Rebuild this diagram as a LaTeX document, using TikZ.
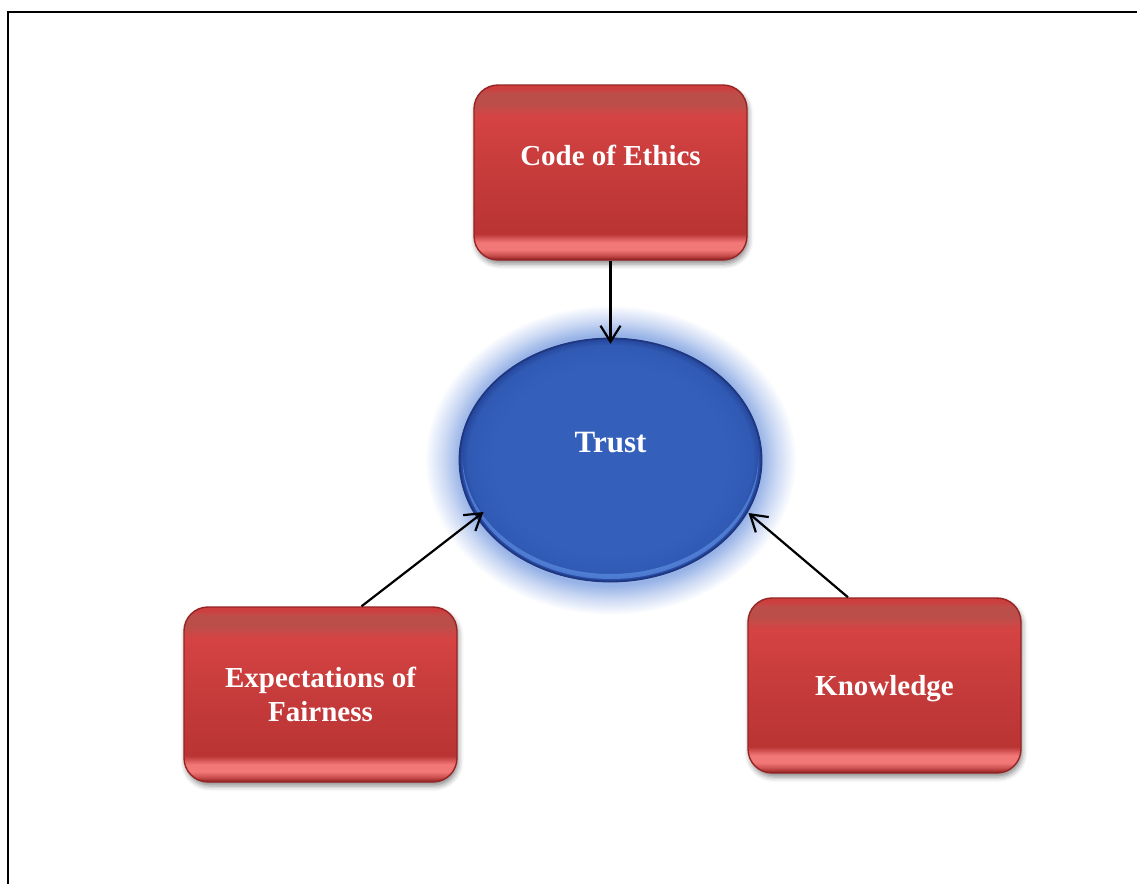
\documentclass[tikz,border=0pt]{standalone}
\usepackage{fontspec}
\setmainfont{Liberation Serif}
\usetikzlibrary{shapes.geometric,arrows.meta,calc,shadows.blur}

\definecolor{rbA}{RGB}{135,28,28}
\definecolor{rbB}{RGB}{200,75,75}
\definecolor{rbC}{RGB}{242,120,120}
\definecolor{rbD}{RGB}{186,52,52}
\definecolor{rbE}{RGB}{198,59,59}
\definecolor{rbF}{RGB}{213,67,67}
\definecolor{rbG}{RGB}{188,78,74}
\definecolor{rbH}{RGB}{205,62,62}
\definecolor{rbRim}{RGB}{150,36,36}
\definecolor{glowc}{RGB}{150,178,230}
\definecolor{glowd}{RGB}{205,218,244}
\definecolor{tb1}{RGB}{52,96,188}
\definecolor{tb2}{RGB}{48,90,180}
\definecolor{tb3}{RGB}{36,68,152}
\definecolor{hlc}{RGB}{100,150,235}
\definecolor{trustrim}{RGB}{30,55,128}

\pgfdeclareverticalshading{redboxsh}{100bp}{color(0bp)=(rbA); color(25bp)=(rbA); color(26.3bp)=(rbB); color(28bp)=(rbC); color(30bp)=(rbC); color(32.5bp)=(rbD); color(50bp)=(rbE); color(66bp)=(rbF); color(69.5bp)=(rbG); color(72.5bp)=(rbG); color(74bp)=(rbH); color(75bp)=(rbH); color(100bp)=(rbH)}
\pgfdeclareradialshading{glowsh}{\pgfpoint{0bp}{0bp}}{color(0bp)=(glowc); color(20.2bp)=(glowc); color(22.5bp)=(glowd); color(25bp)=(white); color(50bp)=(white)}
\pgfdeclareradialshading{trustsh}{\pgfpoint{0bp}{0bp}}{color(0bp)=(tb1); color(19bp)=(tb1); color(23.5bp)=(tb2); color(25bp)=(tb3); color(50bp)=(tb3)}

\begin{document}
\begin{tikzpicture}[x=1pt,y=-1pt,
  redbox/.style={rectangle, rounded corners=24pt, minimum width=273pt, minimum height=175pt,
    inner sep=0pt, shading=redboxsh, draw=rbRim, line width=1.4pt,
    blur shadow={shadow xshift=1.5pt, shadow yshift=-4pt, shadow blur radius=5pt, shadow opacity=45}},
  lbl/.style={text=white, font=\fontsize{29}{34}\selectfont\bfseries, align=center, inner sep=0pt},
  arr/.style={-{Straight Barb[length=16pt,width=20pt]}, line width=2.2pt, black},
  frame/.style={line width=1.4pt, black}]
\useasboundingbox (0,0) rectangle (1137,884);
\draw[frame] (8,884) -- (8,12) -- (1137,12);

% boxes
\node[redbox] (code) at (610.5,172.5) {};
\node[redbox] (exp) at (320.5,694.5) {};
\node[redbox] (know) at (884.5,685.5) {};

% trust ellipse with glow
\shade[shading=glowsh] (610.5,460) ellipse [x radius=186pt, y radius=155pt];
\node[ellipse, minimum width=303pt, minimum height=244pt, inner sep=0pt, shading=trustsh] (trust) at (610.5,460) {};
\begin{scope}
  \clip (trust.center) ellipse [x radius=148pt, y radius=119pt];
  \fill[hlc, opacity=.6, even odd rule] ($(trust.center)+(-200,-200)$) rectangle ($(trust.center)+(200,200)$)
    ([yshift=5pt]trust.center) ellipse [x radius=148pt, y radius=119pt];
\end{scope}
\draw[trustrim, line width=1.8pt] (trust.center) ellipse [x radius=151pt, y radius=121.5pt];

% labels
\node[lbl, anchor=base] (codet) at ($(code.center)+(0,-7.5)$) {Code of Ethics};
\node[lbl, anchor=base, font=\fontsize{31}{36}\selectfont\bfseries] (trustt) at ($(trust.center)+(0,-8)$) {Trust};
\node[lbl] (expt) at (exp.center) {Expectations of\\Fairness};
\node[lbl, anchor=base] (knowt) at ($(know.center)+(0,9.5)$) {Knowledge};

% connectors
\draw[arr] (code.south) -- ($(trust.north)+(0,6)$);
\draw[arr] ($(exp.north)+(41,0)$) -- ($(trust.center)+(-127,52)$);
\draw[arr] ($(know.north)+(-36.5,0)$) -- ($(trust.center)+(138,53)$);
\end{tikzpicture}
\end{document}
